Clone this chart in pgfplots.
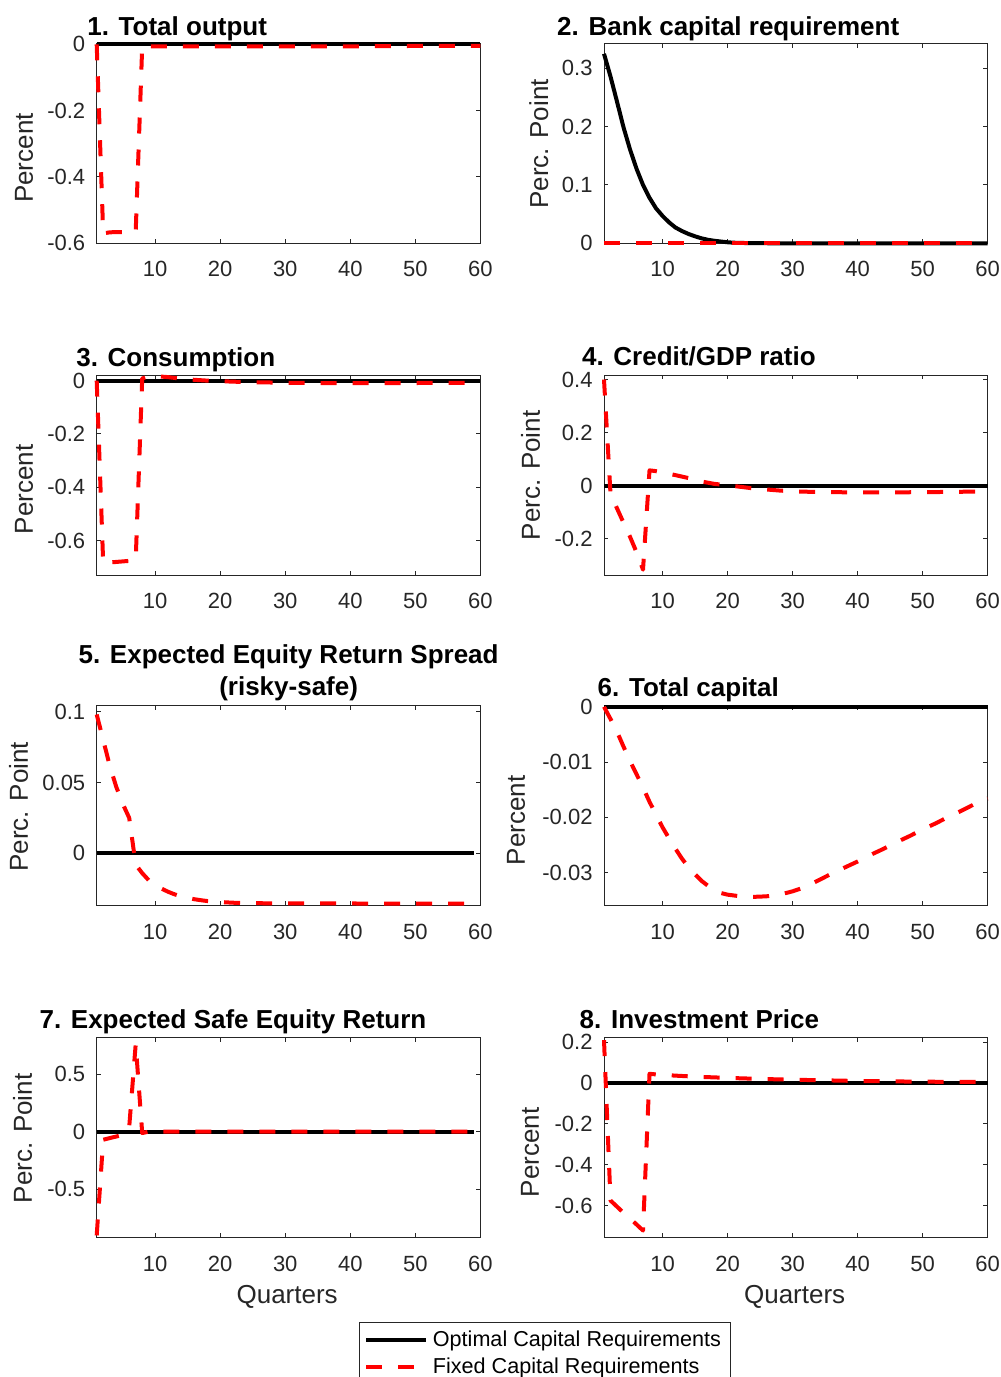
\documentclass[border=0pt]{standalone}
\usepackage{fontspec}
\setmainfont{Liberation Sans}
\usepackage{pgfplots}
\pgfplotsset{compat=1.18}
\definecolor{axgray}{rgb}{0.15,0.15,0.15}
\pgfplotsset{
  mstyle/.style={
    scale only axis, width=191.8pt, height=100pt, anchor=south west,
    xmin=1, xmax=60, xtick={10,20,30,40,50,60}, xticklabels={10,20,30,40,50,60},
    scaled ticks=false,
    tick align=inside, major tick length=2.2pt,
    axis line style={axgray, line width=0.5pt},
    every tick/.style={axgray, line width=0.5pt},
    tick label style={font=\fontsize{11}{13}\selectfont, text=axgray},
    xticklabel style={yshift=-5.5pt},
    yticklabel style={xshift=-2.2pt},
    label style={font=\fontsize{13}{15}\selectfont, text=axgray, inner sep=0pt},
    ylabel style={anchor=base},
    xlabel style={anchor=base},
    title style={font=\fontsize{13}{15.8}\selectfont\bfseries, inner sep=0pt, anchor=base west, yshift=-6pt},
    clip=false,
  },
  bl/.style={black, line width=2pt, line join=round},
  rd/.style={red, line width=2pt, dash pattern=on 8pt off 8pt, line join=round},
}
\begin{document}
\begin{tikzpicture}
\useasboundingbox (0pt,0pt) rectangle (500.5pt,-688.5pt);

% Panel 1
\begin{axis}[mstyle, at={(48.35pt,-121.65pt)},
  ymin=-0.6, ymax=0.003, ytick={-0.6,-0.4,-0.2,0}, yticklabels={-0.6,-0.4,-0.2,0},
  title={1. Total output}, title style={at={(axis description cs:-0.0253,1.0415)}},
  ylabel={Percent}, ylabel style={at={(axis description cs:-0.1665,0.4265)}}]
\addplot[bl] coordinates {(1,0) (60,0)};
\addplot[rd] coordinates {(1,0) (2,-0.57) (3,-0.567) (4,-0.566) (5,-0.566) (6,-0.566) (7,-0.565) (8,-0.006) (10,-0.006) (20,-0.006) (30,-0.006) (40,-0.006) (50,-0.005) (60,-0.005)};
\end{axis}

% Panel 2
\begin{axis}[mstyle, at={(302pt,-121.65pt)},
  ymin=0, ymax=0.343, ytick={0,0.1,0.2,0.3}, yticklabels={0,0.1,0.2,0.3},
  title={2. Bank capital requirement}, title style={at={(axis description cs:-0.123,1.0415)}},
  ylabel={Perc. Point}, ylabel style={at={(axis description cs:-0.146,0.4965)}}]
\addplot[bl] coordinates {(1,0.325) (2,0.286) (3,0.243) (4,0.199) (5,0.161) (6,0.128) (7,0.100) (8,0.078) (9,0.060) (10,0.047) (11,0.036) (12,0.027) (13,0.021) (14,0.016) (15,0.012) (16,0.0085) (17,0.006) (18,0.0043) (19,0.003) (20,0.0018) (21,0.001) (23,0.0004) (26,0.0001) (30,0) (60,0)};
\addplot[rd] coordinates {(1,0) (60,0)};
\end{axis}

% Panel 3
\begin{axis}[mstyle, at={(48.35pt,-287.5pt)},
  ymin=-0.729, ymax=0.021, ytick={-0.6,-0.4,-0.2,0}, yticklabels={-0.6,-0.4,-0.2,0},
  title={3. Consumption}, title style={at={(axis description cs:-0.054,1.045)}},
  ylabel={Percent}, ylabel style={at={(axis description cs:-0.1665,0.4275)}}]
\addplot[bl] coordinates {(1,0) (60,0)};
\addplot[rd] coordinates {(1,0) (2,-0.685) (3,-0.682) (4,-0.680) (5,-0.678) (6,-0.676) (7,-0.672) (8,0.008) (9,0.016) (10,0.017) (11,0.015) (12,0.013) (14,0.007) (16,0.003) (18,0.0) (20,-0.002) (22,-0.004) (25,-0.006) (30,-0.008) (35,-0.009) (40,-0.009) (50,-0.009) (60,-0.008)};
\end{axis}

% Panel 4
\begin{axis}[mstyle, at={(302pt,-287.5pt)},
  ymin=-0.336, ymax=0.417, ytick={-0.2,0,0.2,0.4}, yticklabels={-0.2,0,0.2,0.4},
  title={4. Credit/GDP ratio}, title style={at={(axis description cs:-0.058,1.0465)}},
  ylabel={Perc. Point}, ylabel style={at={(axis description cs:-0.1675,0.4975)}}]
\addplot[bl] coordinates {(1,0) (60,0)};
\addplot[rd] coordinates {(1,0.40) (2,-0.03) (3,-0.085) (4,-0.139) (5,-0.192) (6,-0.25) (7,-0.316) (8,0.058) (9,0.055) (10,0.05) (11,0.045) (12,0.04) (14,0.029) (16,0.016) (18,0.007) (20,0.002) (22,-0.004) (24,-0.010) (26,-0.014) (28,-0.018) (30,-0.021) (33,-0.023) (36,-0.024) (40,-0.025) (45,-0.025) (50,-0.024) (55,-0.023) (60,-0.021)};
\end{axis}

% Panel 5
\begin{axis}[mstyle, at={(48.35pt,-452.85pt)},
  ymin=-0.037, ymax=0.1042, ytick={0,0.05,0.1}, yticklabels={0,0.05,0.1},
  title={5. Expected Equity Return Spread\\(risky-safe)}, title style={align=center, anchor=base, at={(axis description cs:0.5004,1.0535)}},
  ylabel={Perc. Point}, ylabel style={at={(axis description cs:-0.1795,0.495)}}]
\addplot[bl] coordinates {(1,0) (59,0)};
\addplot[rd] coordinates {(1,0.098) (2,0.080) (3,0.062) (4,0.047) (5,0.035) (6,0.025) (7,-0.008) (8,-0.014) (9,-0.019) (10,-0.0225) (11,-0.025) (12,-0.0272) (13,-0.029) (14,-0.0304) (15,-0.0315) (16,-0.0324) (17,-0.0331) (18,-0.0337) (20,-0.0344) (22,-0.0349) (25,-0.0352) (30,-0.0354) (59,-0.0355)};
\end{axis}

% Panel 6
\begin{axis}[mstyle, at={(302pt,-452.85pt)},
  ymin=-0.036, ymax=0.0002, ytick={-0.03,-0.02,-0.01,0}, yticklabels={-0.03,-0.02,-0.01,0},
  title={6. Total capital}, title style={at={(axis description cs:-0.0174,1.045)}},
  ylabel={Percent}, ylabel style={at={(axis description cs:-0.2065,0.426)}}]
\addplot[bl] coordinates {(1,0) (60,0)};
\addplot[rd] coordinates {(1,0) (2,-0.0022) (3,-0.0045) (4,-0.0072) (5,-0.0098) (6,-0.0122) (7,-0.0146) (8,-0.0172) (9,-0.0195) (10,-0.0218) (11,-0.0238) (12,-0.0257) (13,-0.0275) (14,-0.029) (15,-0.0303) (16,-0.0315) (17,-0.0324) (18,-0.0331) (19,-0.0337) (20,-0.0340) (22,-0.0343) (24,-0.0344) (26,-0.0343) (28,-0.0340) (30,-0.0334) (32,-0.0326) (34,-0.0314) (36,-0.0302) (38,-0.0291) (40,-0.0280) (42,-0.0268) (44,-0.0257) (46,-0.0245) (48,-0.0234) (50,-0.0222) (52,-0.0211) (54,-0.0199) (56,-0.0188) (58,-0.0176) (60,-0.0166)};
\end{axis}

% Panel 7
\begin{axis}[mstyle, at={(48.35pt,-618.85pt)},
  ymin=-0.92, ymax=0.815, ytick={-0.5,0,0.5}, yticklabels={-0.5,0,0.5},
  title={7. Expected Safe Equity Return}, title style={at={(axis description cs:-0.1498,1.047)}},
  ylabel={Perc. Point}, ylabel style={at={(axis description cs:-0.169,0.497)}},
  xlabel={Quarters}, xlabel style={at={(axis description cs:0.4965,-0.3265)}},
  legend style={at={(axis description cs:0.6843,-0.42)}, anchor=north west, draw=axgray, line width=0.5pt,
    font=\fontsize{10.8}{13}\selectfont, text=black, inner xsep=2.4pt, inner ysep=4.4pt, row sep=3.9pt,
    nodes={inner sep=0pt}, /tikz/every odd column/.append style={column sep=2.2pt}},
  legend cell align=left,
  legend image code/.code={\draw[#1] (0pt,0pt) -- (30pt,0pt);}]
\addplot[bl] coordinates {(1,0) (59,0)};
\addplot[rd] coordinates {(1,-0.9) (2,-0.07) (3,-0.056) (4,-0.042) (5,-0.028) (6,0.04) (7,0.76) (8,-0.012) (9,0) (20,0) (40,0) (59,0)};
\legend{Optimal Capital Requirements\hspace*{2.4pt}, Fixed Capital Requirements}
\end{axis}

% Panel 8
\begin{axis}[mstyle, at={(302pt,-618.85pt)},
  ymin=-0.757, ymax=0.2216, ytick={-0.6,-0.4,-0.2,0,0.2}, yticklabels={-0.6,-0.4,-0.2,0,0.2},
  title={8. Investment Price}, title style={at={(axis description cs:-0.0643,1.047)}},
  ylabel={Percent}, ylabel style={at={(axis description cs:-0.17,0.426)}},
  xlabel={Quarters}, xlabel style={at={(axis description cs:0.497,-0.3265)}}]
\addplot[bl] coordinates {(1,0) (60,0)};
\addplot[rd] coordinates {(1,0.21) (2,-0.575) (3,-0.605) (4,-0.635) (5,-0.663) (6,-0.692) (7,-0.722) (8,0.045) (9,0.042) (10,0.04) (12,0.036) (15,0.031) (20,0.025) (25,0.02) (30,0.016) (35,0.013) (40,0.01) (45,0.008) (50,0.0065) (55,0.0055) (60,0.005)};
\end{axis}
\end{tikzpicture}
\end{document}
